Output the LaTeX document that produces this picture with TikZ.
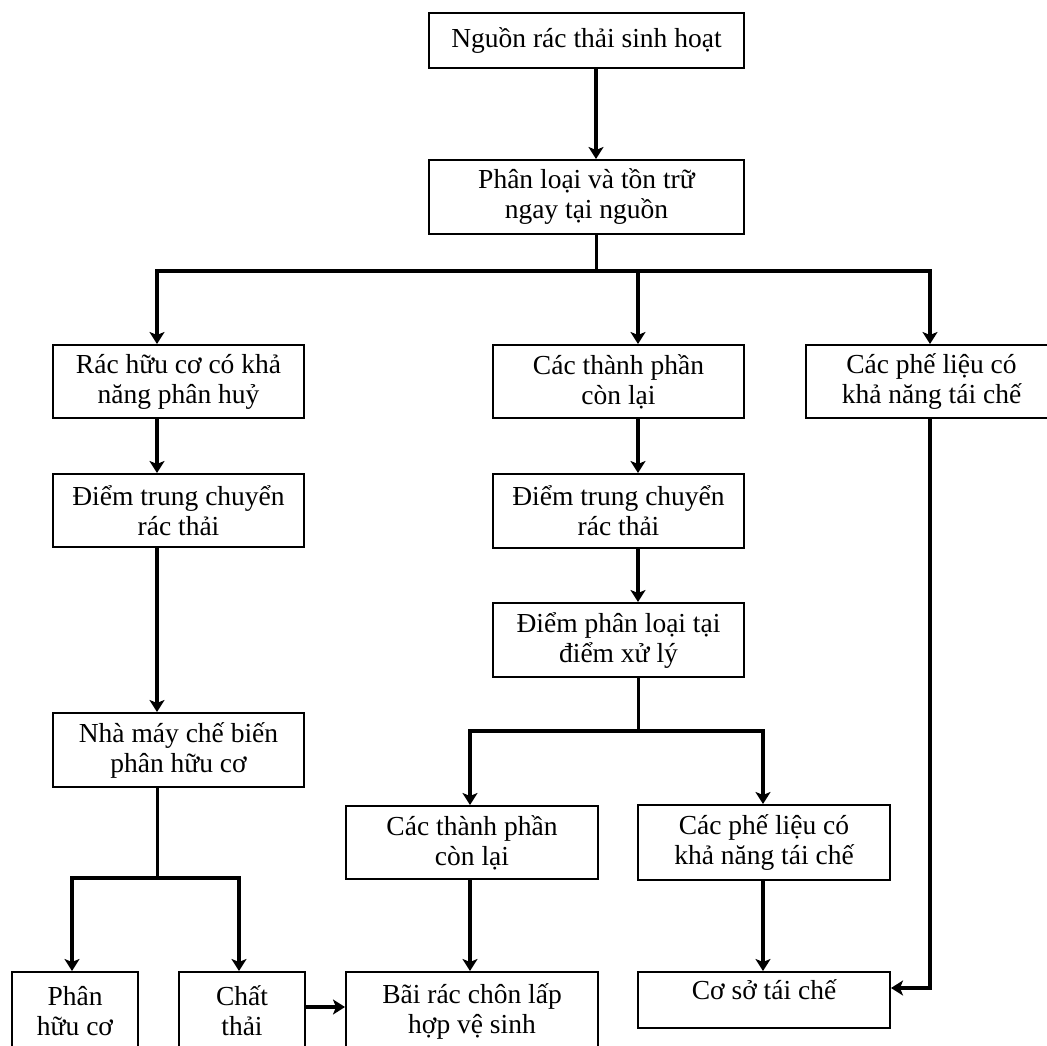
\documentclass[tikz,border=0pt]{standalone}
\usepackage{fontspec}
\setmainfont{Liberation Serif}
\usetikzlibrary{arrows.meta}
\begin{document}
\begin{tikzpicture}[x=1pt,y=-1pt,
  box/.style={draw, line width=2pt, inner sep=0pt, anchor=north west,
    align=center, font=\fontsize{27.5}{30}\selectfont,
    minimum width=251pt, minimum height=74pt},
  link/.style={line width=3pt},
  arr/.style={line width=3.6pt, -{Stealth[length=12pt,width=15pt,inset=3pt]}}]
\useasboundingbox (0,0) rectangle (1047,1046);
\fill[white] (0,0) rectangle (1047,1046);
\clip (0,0) rectangle (1047,1046);

% column positions of the connectors
\coordinate (c0) at (596,0);
\coordinate (cL) at (157,0);
\coordinate (cM) at (638,0);
\coordinate (cR) at (930,0);
\coordinate (cA) at (72,0);
\coordinate (cB) at (239,0);
\coordinate (cC) at (470,0);
\coordinate (cD) at (763,0);
\coordinate (hW) at (0,1007);
\coordinate (hF) at (0,988);

% boxes
\node[box, minimum width=315pt, minimum height=55pt] (src) at (428,12) {Nguồn rác thải sinh hoạt};
\node[box, minimum width=315pt] (sort) at (428,159) {Phân loại và tồn trữ\\ngay tại nguồn};
\node[box, minimum height=73pt] (org) at (52,344) {Rác hữu cơ có khả\\năng phân huỷ};
\node[box, minimum height=73pt] (rest) at (492,344) {Các thành phần\\còn lại};
\node[box, minimum height=73pt] (recy) at (805,344) {Các phế liệu có\\khả năng tái chế};
\node[box, minimum height=73pt] (tr1) at (52,473) {Điểm trung chuyển\\rác thải};
\node[box] (tr2) at (492,473) {Điểm trung chuyển\\rác thải};
\node[box] (pick) at (492,602) {Điểm phân loại tại\\điểm xử lý};
\node[box] (plant) at (52,712) {Nhà máy chế biến\\phân hữu cơ};
\node[box, minimum width=252pt, minimum height=73pt] (rest2) at (345,805) {Các thành phần\\còn lại};
\node[box, minimum width=252pt, minimum height=75pt] (recy2) at (637,804) {Các phế liệu có\\khả năng tái chế};
\node[box, minimum width=126pt, minimum height=78pt] (comp) at (11,971) {Phân\\hữu cơ};
\node[box, minimum width=126pt, minimum height=78pt] (waste) at (178,971) {Chất\\thải};
\node[box, minimum width=252pt, minimum height=78pt] (land) at (345,971) {Bãi rác chôn lấp\\hợp vệ sinh};
\node[box, minimum width=252pt, minimum height=56pt, text depth=20pt] (fac) at (637,971) {Cơ sở tái chế};

% top level
\draw[arr] (src.south -| c0) -- (sort.north -| c0);
\coordinate (t1) at (596,271);
\draw[link] (sort.south -| t1) -- (t1);
\draw[arr] (t1) -| (org.north -| cL);
\draw[arr] (t1) -| (rest.north -| cM);
\draw[arr] (t1) -| (recy.north -| cR);

% organic branch
\draw[arr] (org.south -| cL) -- (tr1.north -| cL);
\draw[arr] (tr1.south -| cL) -- (plant.north -| cL);
\coordinate (t2) at (157,878);
\draw[link] (plant.south -| t2) -- (t2);
\draw[arr] (t2) -| (comp.north -| cA);
\draw[arr] (t2) -| (waste.north -| cB);
\draw[arr] (waste.east |- hW) -- (land.west |- hW);

% remaining components branch
\draw[arr] (rest.south -| cM) -- (tr2.north -| cM);
\draw[arr] (tr2.south -| cM) -- (pick.north -| cM);
\coordinate (t3) at (638,731);
\draw[link] (pick.south -| t3) -- (t3);
\draw[arr] (t3) -| (rest2.north -| cC);
\draw[arr] (t3) -| (recy2.north -| cD);
\draw[arr] (rest2.south -| cC) -- (land.north -| cC);
\draw[arr] (recy2.south -| cD) -- (fac.north -| cD);

% recyclables straight to the recycling facility
\draw[arr] (recy.south -| cR) |- (fac.east |- hF);
\end{tikzpicture}
\end{document}
